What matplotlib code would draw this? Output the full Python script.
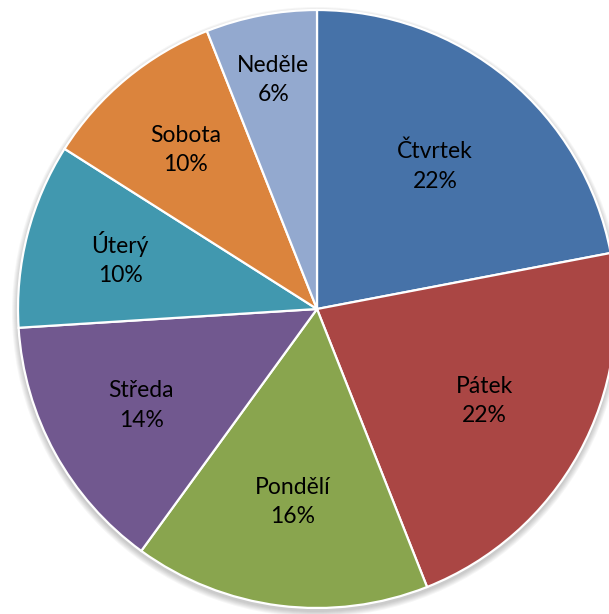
import numpy as np
import matplotlib.pyplot as plt
from matplotlib.patches import Circle

# Rozložení podle dnů v týdnu
days = ['Čtvrtek', 'Pátek', 'Pondělí', 'Středa', 'Úterý', 'Sobota', 'Neděle']
shares = [22, 22, 16, 14, 10, 10, 6]
colors = ['#4672A8', '#AA4644', '#89A54E', '#71588F', '#4198AF', '#DB843D', '#93A9CF']

# how far from the centre each label sits (fraction of radius)
label_dist = [0.62, 0.64, 0.65, 0.67, 0.68, 0.69, 0.78]

W, H = 609, 614
fig = plt.figure(figsize=(W / 100, H / 100), dpi=100)
ax = fig.add_axes([0, 0, 1, 1])

cx, cy, r = 317, H - 309, 299

# soft drop shadow under the pie
for k in range(6):
    ax.add_patch(Circle((cx, cy - 3), r + 1 + k, color='black',
                        alpha=0.035, lw=0, zorder=0))

wedges, _ = ax.pie(shares, colors=colors, startangle=90, counterclock=False,
                   center=(cx, cy), radius=r, frame=True,
                   wedgeprops=dict(edgecolor='white', linewidth=1.6, zorder=1))
ax.set_xlim(0, W)
ax.set_ylim(0, H)
ax.set_aspect('equal')
ax.axis('off')

for w, name, val, d in zip(wedges, days, shares, label_dist):
    ang = np.deg2rad((w.theta1 + w.theta2) / 2)
    x = cx + d * r * np.cos(ang)
    y = cy + d * r * np.sin(ang)
    ax.text(x, y, f'{name}\n{val}%', ha='center', va='center',
            fontsize=16.5, family=['Lato', 'DejaVu Sans'], linespacing=1.5,
            color='black', zorder=3)

fig.savefig('out.png', dpi=100)
